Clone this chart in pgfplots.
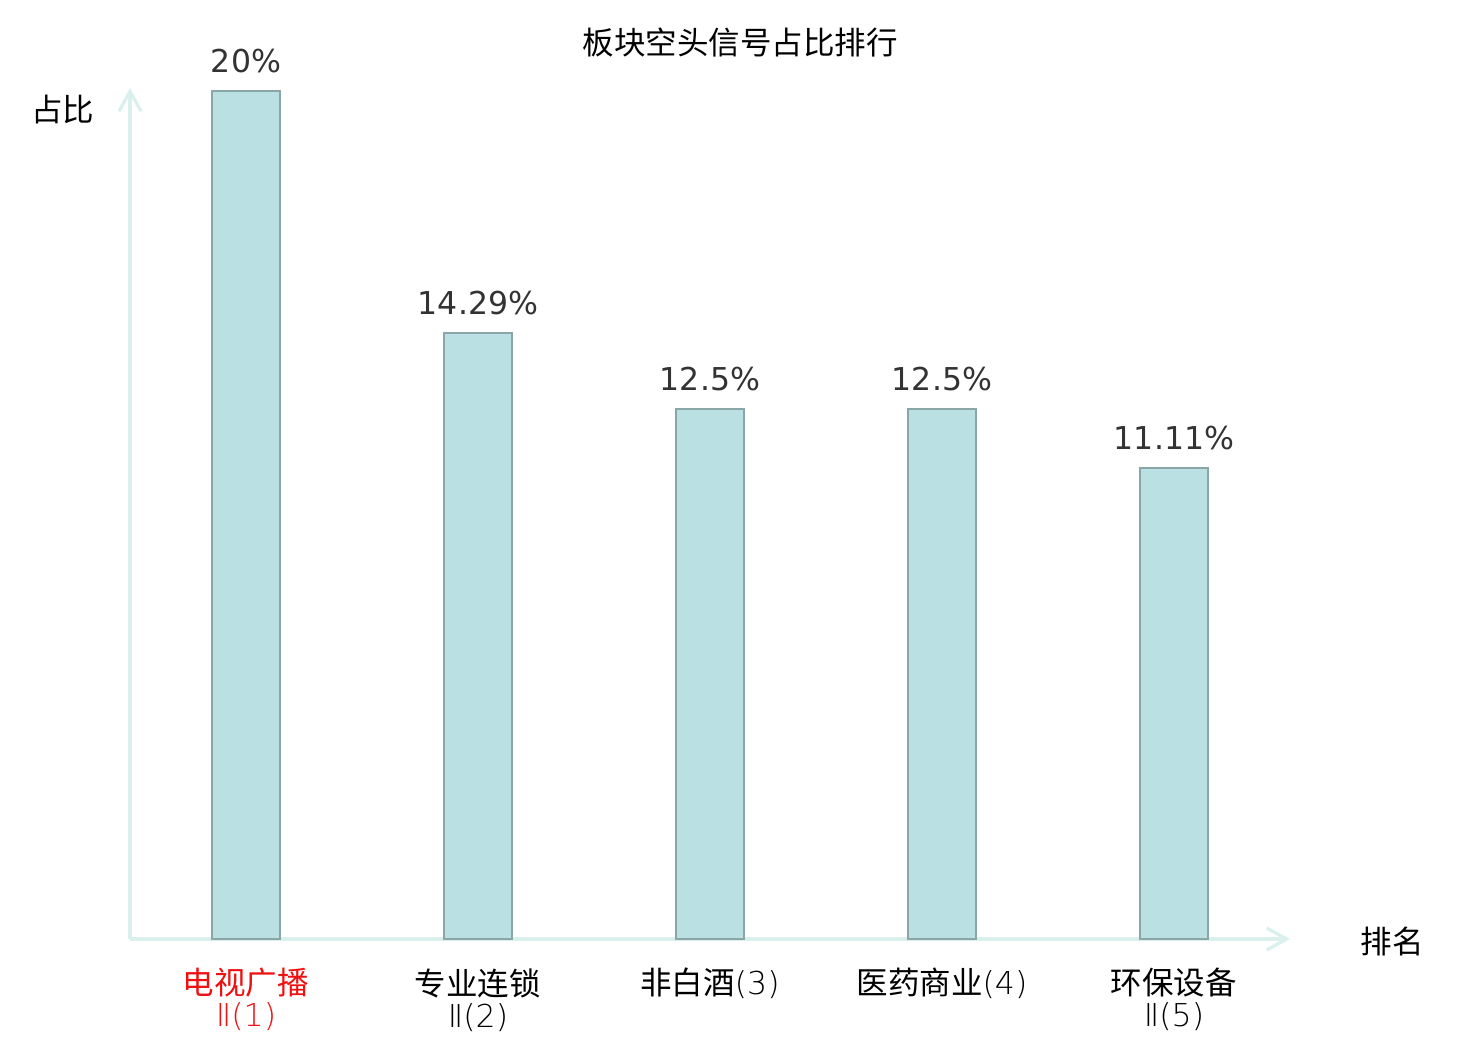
\documentclass[border=0pt]{standalone}
\usepackage{fontspec}
\setmainfont{DejaVu Sans}
\newfontfamily\cjk{Noto Sans CJK SC}
\newfontfamily\thin{DejaVu Sans ExtraLight}
\usepackage{pgfplots}
\pgfplotsset{compat=1.18}
\usetikzlibrary{arrows.meta}
\definecolor{barfill}{HTML}{BBE0E3}
\definecolor{baredge}{HTML}{8AA6A6}
\definecolor{axisc}{HTML}{DAF0ED}
\definecolor{valc}{HTML}{333333}
\definecolor{redc}{HTML}{EE1111}
\newcommand{\lf}{\fontsize{15.75}{16}\selectfont}
\begin{document}
\begin{tikzpicture}
\path[use as bounding box] (0pt,0pt) rectangle (740pt,520pt);
\begin{axis}[
  at={(65pt,50.5pt)}, anchor=south west, scale only axis,
  width=580pt, height=425.5pt,
  xmin=-0.5, xmax=4.5, ymin=0, ymax=20.07,
  axis lines=left,
  axis line style={draw=axisc, line width=1.6pt, -{Straight Barb[length=10pt,width=11pt,line width=1.6pt]}},
  ytick=\empty,
  xtick={0,1,2,3,4},
  xticklabels={{\color{redc}电视广播\\\color{redc}{\thin Ⅱ(1)}},{专业连锁\\{\thin Ⅱ(2)}},{非白酒{\thin(3)}},{医药商业{\thin(4)}},{环保设备\\{\thin Ⅱ(5)}}},
  x tick label style={font=\cjk\lf, align=center, anchor=north, inner sep=0pt, yshift=-14.5pt},
  major tick length=0pt,
  clip=false,
]
\addplot[ybar, bar width=34pt, fill=barfill, draw=baredge, line width=1pt,
  nodes near coords, point meta=explicit symbolic,
  every node near coord/.append style={font=\lf, text=valc, anchor=south, inner sep=0pt, yshift=8.5pt}]
  coordinates {(0,20)[20\%] (1,14.29)[14.29\%] (2,12.5)[12.5\%] (3,12.5)[12.5\%] (4,11.11)[11.11\%]};
\end{axis}
\node[font=\cjk\lf] at (370pt,499pt) {板块空头信号占比排行};
\node[font=\cjk\lf] at (31.5pt,465pt) {占比};
\node[font=\cjk\lf] at (696pt,49.5pt) {排名};
\end{tikzpicture}
\end{document}
